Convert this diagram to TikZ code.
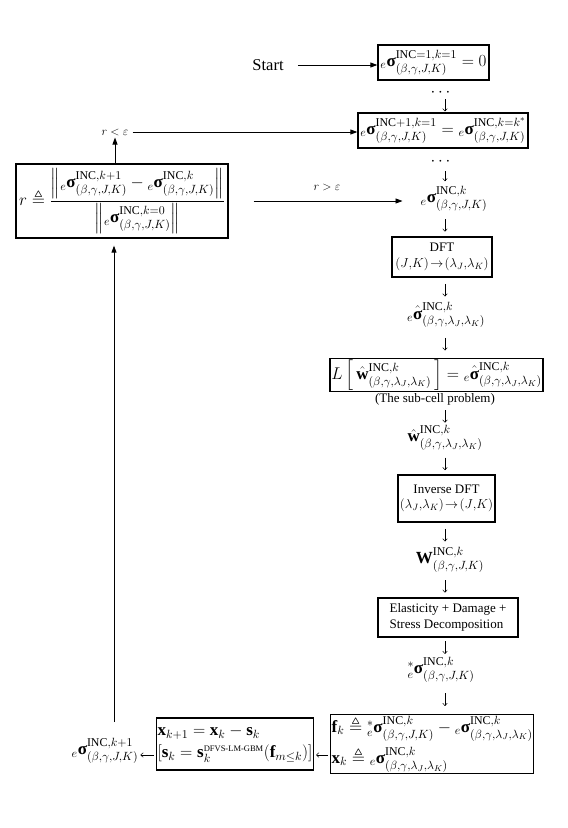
\RequirePackage{fix-cm}
\documentclass[tikz,border=0pt]{standalone}
\usepackage{amsmath,amssymb}
\usepackage{fontspec}
\setmainfont{Liberation Serif}
\usetikzlibrary{arrows.meta,calc}
\newcommand{\bsig}{\text{\normalfont\bfseries σ}}
\newcommand{\esig}[2]{{}_{e}\bsig^{\mathrm{INC}#1}_{(\beta,\gamma,#2)}}
\newcommand{\ehsig}[2]{{}_{e}\hat{\bsig}^{\mathrm{INC}#1}_{(\beta,\gamma,#2)}}
\newcommand{\sJK}{J,K}
\newcommand{\sLJK}{\lambda_J,\lambda_K}
\newcommand{\darr}[2]{\draw[sarr] ($(#1.south -| col)!0.5!(#2.north -| col)+(0,-5.5)$) -- ($(#1.south -| col)!0.5!(#2.north -| col)+(0,7)$);}
\begin{document}
\begin{tikzpicture}[x=1pt,y=-1pt,
  box/.style={draw, line width=1.3pt, inner sep=3pt},
  mth/.style={font=\fontsize{17}{20}\selectfont, inner sep=1pt},
  txt/.style={font=\fontsize{13}{15.5}\selectfont, align=center, inner sep=2pt},
  sarr/.style={-{To[length=3pt,width=5pt]}, line width=0.5pt},
  barr/.style={-{Triangle[length=7pt,width=5pt]}, line width=0.9pt},
  lbl/.style={font=\fontsize{12}{14}\selectfont, inner sep=1pt}]
\useasboundingbox (0,0) rectangle (568,828);
\coordinate (col) at (445,0);
\coordinate (ly) at (0,755);
\coordinate (ry) at (0,201);
\coordinate (vb) at (114,722);

\node[font=\fontsize{16.5}{20}\selectfont, inner sep=1pt] (start) at (268,65) {Start};
\node[box,mth,minimum width=111pt,minimum height=35pt] (b1) at (433.5,62.5) {$\esig{=1,k=1}{\sJK} = 0$};
\node[mth] (d1) at (442,93) {$\cdots$};
\node[box,mth,minimum width=170pt,minimum height=35pt] (b2) at (443,130.5) {$\esig{+1,k=1}{\sJK} = \esig{,k=k^{*}}{\sJK}$};
\node[mth] (d2) at (442,162) {$\cdots$};
\node[mth] (s1) at (454,199) {$\esig{,k}{\sJK}$};
\node[box,txt,minimum width=100pt,minimum height=40pt] (dft) at (442,257) {DFT\\$(J{,}K)\!\rightarrow\!(\lambda_J{,}\lambda_K)$};
\node[mth] (s2) at (446,315) {$\ehsig{,k}{\sLJK}$};
\node[box,mth,minimum width=213pt,minimum height=32pt] (L) at (436.5,375) {$L\left[\,\hat{\mathbf w}^{\mathrm{INC},k}_{(\beta,\gamma,\lambda_J,\lambda_K)}\,\right] = \ehsig{,k}{\sLJK}$};
\node[txt] (sub) at (435,399) {(The sub-cell problem)};
\node[mth] (w) at (445,438) {$\hat{\mathbf w}^{\mathrm{INC},k}_{(\beta,\gamma,\lambda_J,\lambda_K)}$};
\node[box,txt,minimum width=95pt,minimum height=47pt] (idft) at (446.5,498.5) {Inverse DFT\\$(\lambda_J{,}\lambda_K)\!\rightarrow\!(J{,}K)$};
\node[mth] (W) at (450,560) {$\mathbf W^{\mathrm{INC},k}_{(\beta,\gamma,J,K)}$};
\node[box,txt,align=left,minimum width=140pt,minimum height=39pt] (el) at (448,617.5) {Elasticity + Damage +\\Stress Decomposition};
\node[mth] (s3) at (441,670) {${}^{*}_{e}\bsig^{\mathrm{INC},k}_{(\beta,\gamma,J,K)}$};
\node[box,mth,align=left,anchor=west,minimum height=58pt] (fb) at (330,744) {$\mathbf f_k \triangleq {}^{*}_{e}\bsig^{\mathrm{INC},k}_{(\beta,\gamma,J,K)} - \esig{,k}{\sLJK}$\\[5pt]$\mathbf x_k \triangleq \esig{,k}{\sLJK}$};
\node[box,mth,align=left,minimum width=146pt,minimum height=52pt] (xb) at (235,744) {$\mathbf x_{k+1} = \mathbf x_k - \mathbf s_k$\\[2pt]$[\mathbf s_k = \mathbf s_k^{\text{\fontsize{8.5}{9}\selectfont DFVS-LM-GBM}}(\mathbf f_{m\le k})]$};
\node[mth] (s4) at (105,751) {$\esig{,k+1}{\sJK}$};
\node[box,mth,minimum width=212pt,minimum height=74pt] (rb) at (122,201) {$r \triangleq \dfrac{\left\| \esig{,k+1}{\sJK} - \esig{,k}{\sJK} \right\|}{\left\| \esig{,k=0}{\sJK} \right\|}$};
\node[lbl] (rlt) at (115,132) {$r<\varepsilon$};
\node[lbl] (rgt) at (327,187) {$r>\varepsilon$};

% connectors
\draw[barr, shorten <=13pt] (start.east) -- (start.east -| b1.west);
\draw[sarr, shorten <=1.5pt, shorten >=1pt] (d1.south -| col) -- (b2.north -| col);
\draw[sarr, shorten <=4.5pt, shorten >=4pt] (d2.south -| col) -- (s1.north -| col);
\darr{s1}{dft}
\darr{dft}{s2}
\darr{s2}{L}
\darr{sub}{w}
\darr{w}{idft}
\darr{idft}{W}
\darr{W}{el}
\darr{el}{s3}
\darr{s3}{fb}
\draw[barr, shorten >=1pt] (rlt.south |- rb.north) -- (rlt.south);
\draw[barr, shorten <=3pt] (rlt.east) -- (rlt.east -| b2.west);
\draw[barr, shorten <=25pt, shorten >=17pt] (rb.east |- ry) -- (s1.west |- ry);
\draw[sarr, shorten <=2pt, shorten >=2pt] (fb.west |- ly) -- (xb.east |- ly);
\draw[sarr, shorten <=2pt, shorten >=1pt] (xb.west |- ly) -- (s4.east |- ly);
\draw[barr, shorten >=7pt] (vb) -- (vb |- rb.south);
\end{tikzpicture}
\end{document}
